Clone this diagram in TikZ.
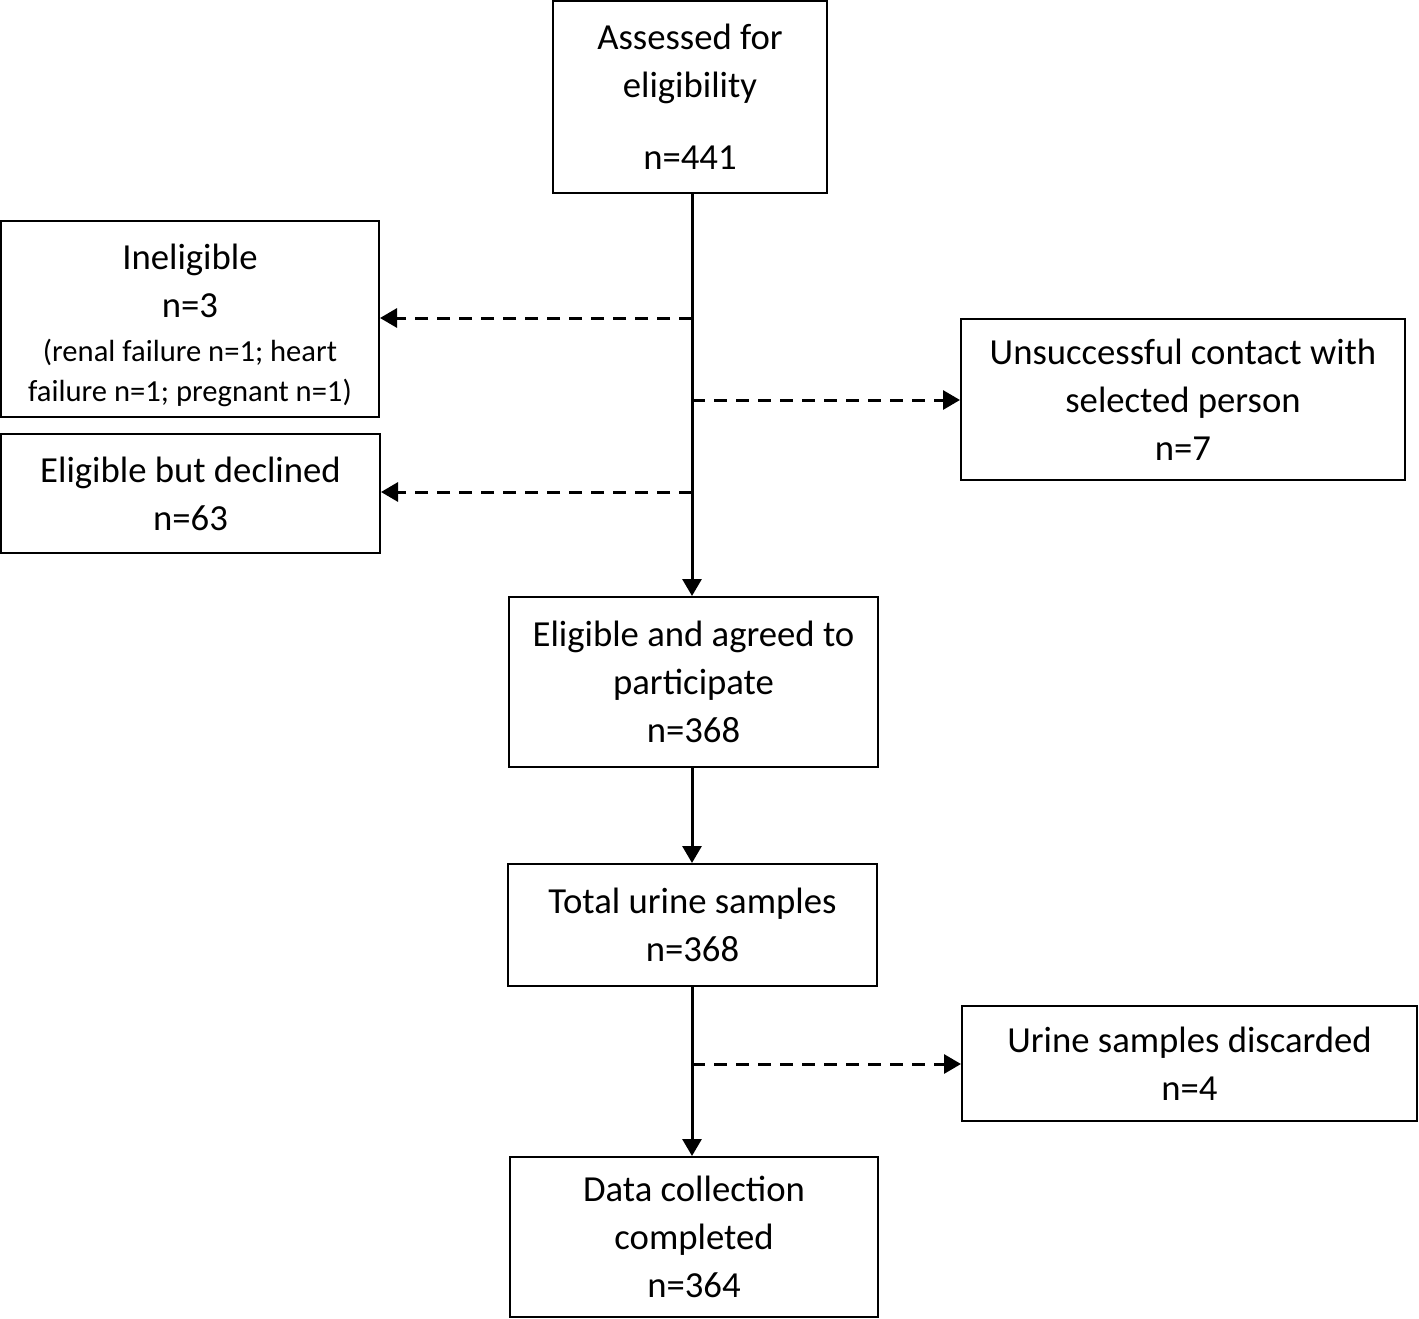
\documentclass[tikz,border=0pt]{standalone}
\usepackage{fontspec}
\setmainfont{Carlito}
\usetikzlibrary{arrows.meta}
\begin{document}
\begin{tikzpicture}[x=1pt,y=-1pt,
  box/.style={draw, line width=2pt, align=center, inner sep=0pt, font=\fontsize{36.7}{48}\selectfont},
  solidarrow/.style={line width=3pt, -{Triangle[length=17pt,width=19pt]}},
  dasharrow/.style={line width=3pt, dash pattern=on 13pt off 9pt, -{Triangle[length=17pt,width=19pt]}}]
\useasboundingbox (0,0) rectangle (1419,1319);
\node[box, minimum width=274, minimum height=192] (assess) at (690,97) {Assessed for\\eligibility\\[24pt]n=441};
\node[box, minimum width=378, minimum height=196] (inel) at (190,319) {\rule{0pt}{38pt}Ineligible\\n=3\\[-4pt]{\fontsize{30.6}{40}\selectfont (renal failure n=1; heart}\\[-8pt]{\fontsize{30.6}{40}\selectfont failure n=1; pregnant n=1)}};
\node[box, minimum width=379, minimum height=119] (decl) at (190.5,493.5) {Eligible but declined\\n=63};
\node[box, minimum width=444, minimum height=161] (unsucc) at (1183,399.5) {Unsuccessful contact with\\selected person\\n=7};
\node[box, minimum width=369, minimum height=170] (agreed) at (693.5,682) {Eligible and agreed to\\participate\\n=368};
\node[box, minimum width=369, minimum height=122] (urine) at (692.5,925) {Total urine samples\\n=368};
\node[box, minimum width=455, minimum height=115] (disc) at (1189.5,1063.5) {Urine samples discarded\\n=4};
\node[box, minimum width=368, minimum height=160] (data) at (694,1237) {Data collection\\completed\\n=364};
\coordinate (j1) at (692,318);
\coordinate (j2) at (692,400);
\coordinate (j3) at (692,492);
\coordinate (j4) at (692,1064);
\coordinate (top) at (692,193);
\coordinate (uo) at (692,986);
\draw[solidarrow] (top) -- (agreed.north -| top);
\draw[dasharrow] (j1) -- (inel.east |- j1);
\draw[dasharrow] (j2) -- (unsucc.west |- j2);
\draw[dasharrow] (j3) -- (decl.east |- j3);
\draw[solidarrow] (agreed.south -| top) -- (urine.north -| top);
\draw[solidarrow] (uo) -- (data.north -| uo);
\draw[dasharrow] (j4) -- (disc.west |- j4);
\end{tikzpicture}
\end{document}
